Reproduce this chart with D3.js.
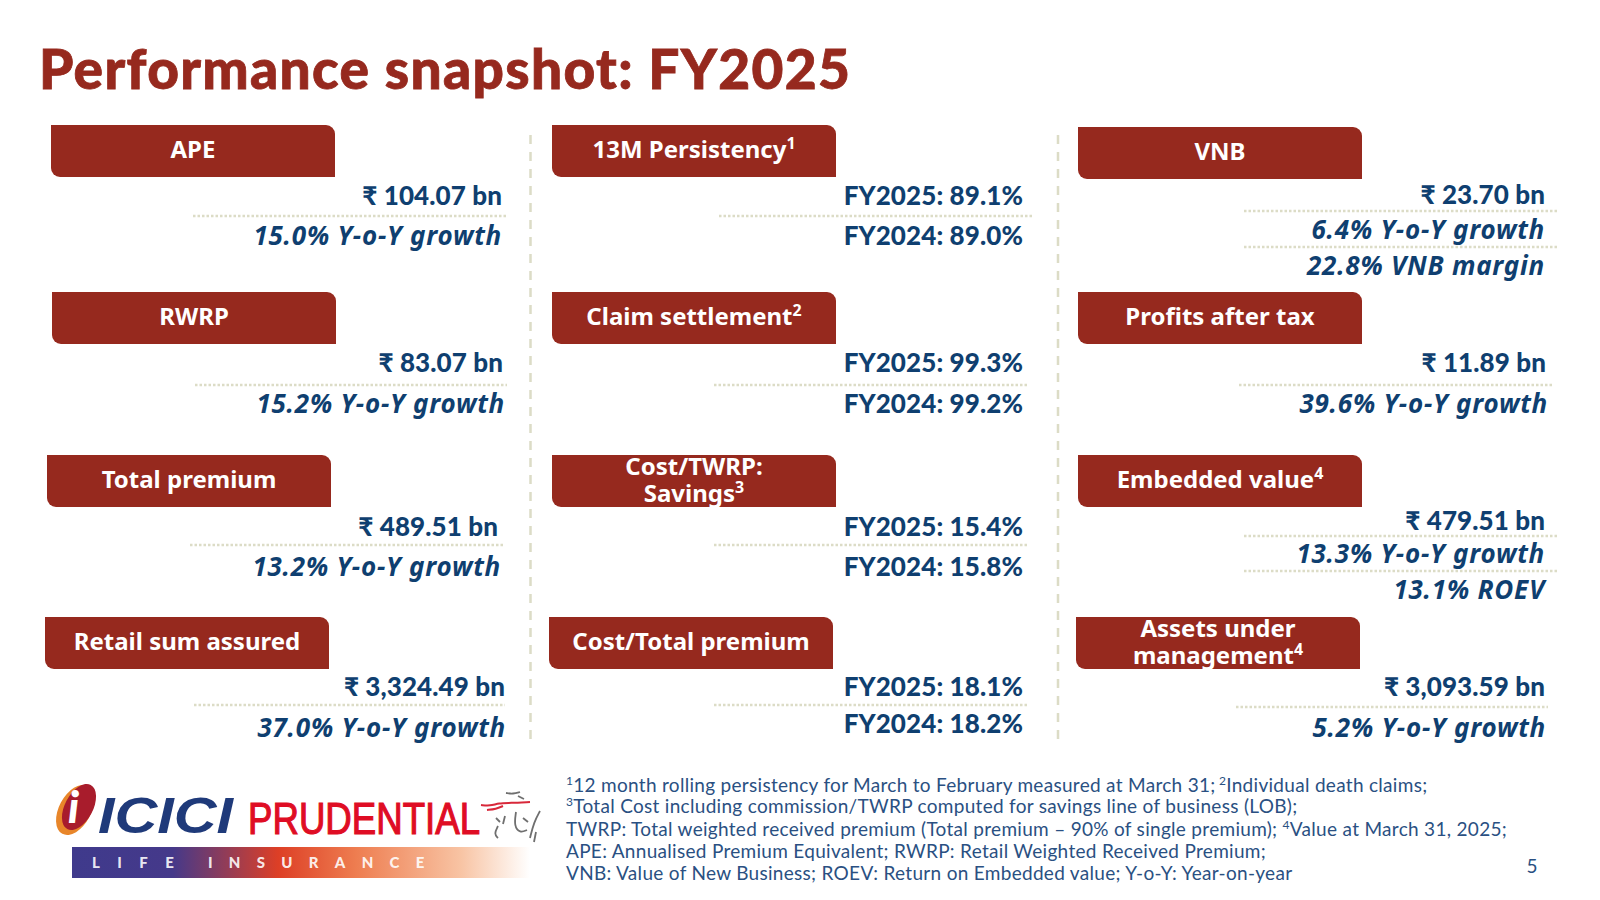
<!DOCTYPE html>
<html>
<head>
<meta charset="utf-8">
<script src="https://cdn.jsdelivr.net/npm/d3@7"></script>
<style>
	html, body { margin: 0; background: #fff; }
	svg { display: block; font-family: Lato, "Noto Sans", sans-serif; }
</style>
</head>
<body>
<svg id="slide" width="1600" height="900"></svg>
<script>
const titleText = "Performance snapshot: FY2025";

// Card contents, column by column
const cardTitles = [
	["APE"], ["RWRP"], ["Total premium"], ["Retail sum assured"],
	["13M Persistency"], ["Claim settlement"], ["Cost/TWRP:", "Savings"], ["Cost/Total premium"],
	["VNB"], ["Profits after tax"], ["Embedded value"], ["Assets under", "management"],
];
const cardNotes = ["", "", "", "", "1", "2", "3", "", "", "", "4", "4"];
const cardValues = [
	"₹ 104.07 bn", "₹ 83.07 bn", "₹ 489.51 bn", "₹ 3,324.49 bn",
	"FY2025: 89.1%", "FY2025: 99.3%", "FY2025: 15.4%", "FY2025: 18.1%",
	"₹ 23.70 bn", "₹ 11.89 bn", "₹ 479.51 bn", "₹ 3,093.59 bn",
];
const cardSecond = [
	"15.0% Y-o-Y growth", "15.2% Y-o-Y growth", "13.2% Y-o-Y growth", "37.0% Y-o-Y growth",
	"FY2024: 89.0%", "FY2024: 99.2%", "FY2024: 15.8%", "FY2024: 18.2%",
	"6.4% Y-o-Y growth", "39.6% Y-o-Y growth", "13.3% Y-o-Y growth", "5.2% Y-o-Y growth",
];
const cardThird = ["", "", "", "", "", "", "", "", "22.8% VNB margin", "", "13.1% ROEV", ""];

const footnotes = [
	[["1", true], ["12 month rolling persistency for March to February measured at March 31;", false], [" 2", true], ["Individual death claims;", false]],
	[["3", true], ["Total Cost including commission/TWRP computed for savings line of business (LOB);", false]],
	[["TWRP: Total weighted received premium (Total premium – 90% of single premium); ", false], ["4", true], ["Value at March 31, 2025;", false]],
	[["APE: Annualised Premium Equivalent; RWRP: Retail Weighted Received Premium;", false]],
	[["VNB: Value of New Business; ROEV: Return on Embedded value; Y-o-Y: Year-on-year", false]],
];
const pageNumber = "5";

// Layout, kept apart from the content above
const boxW = 284, boxH = 52;
const boxX = [51, 52, 47, 45, 552, 552, 552, 549, 1078, 1078, 1078, 1076];
const boxY = [125, 292, 455, 617, 125, 292, 455, 617, 127, 292, 455, 617];
const textRight = [
	[502, 502], [503, 505], [498, 501], [505, 506],
	[1023, 1023], [1023, 1023], [1023, 1023], [1023, 1023],
	[1545, 1545, 1545], [1546, 1548], [1545, 1545, 1545], [1545, 1546],
];
const textBase = [
	[205, 245], [372, 413], [536, 576], [696, 737],
	[205, 245], [372, 413], [536, 576], [696, 733],
	[204, 239, 275], [372, 413], [530, 563, 599], [696, 737],
];
const dotRules = [
	[[193, 507, 216]], [[195, 507, 385]], [[190, 503, 545]], [[194, 505, 705]],
	[[719, 1033, 216]], [[714, 1028, 385]], [[714, 1028, 545]], [[714, 1028, 705]],
	[[1244, 1557, 211], [1244, 1557, 247]], [[1239, 1552, 385]],
	[[1244, 1557, 536], [1244, 1557, 571]], [[1236, 1548, 707]],
];
const dividerX = [530.5, 1058];
const footBase = [792, 813, 836, 858, 880];

const red = "#96291e", navy = "#0f3f70", dotColor = "#dcdcc6";

const svg = d3.select("#slide");

svg.append("text")
	.attr("x", 39).attr("y", 89)
	.attr("font-size", 55).attr("font-weight", 900)
	.attr("letter-spacing", 1.35)
	.attr("fill", red).attr("stroke", red).attr("stroke-width", 0.8)
	.text(titleText);

// Dashed dividers between the columns
svg.selectAll("line.divider")
	.data(dividerX)
	.join("line")
	.attr("class", "divider")
	.attr("x1", (d) => d).attr("x2", (d) => d)
	.attr("y1", 135).attr("y2", 741)
	.attr("stroke", dotColor).attr("stroke-width", 2.5)
	.attr("stroke-dasharray", "9 8");

// Header box: only top right and bottom left corners are rounded
const boxPath = (x, y) => {
	const r = 9;
	const p = d3.path();
	p.moveTo(x, y);
	p.lineTo(x + boxW - r, y);
	p.arcTo(x + boxW, y, x + boxW, y + r, r);
	p.lineTo(x + boxW, y + boxH);
	p.lineTo(x + r, y + boxH);
	p.arcTo(x, y + boxH, x, y + boxH - r, r);
	p.closePath();
	return p.toString();
};

const cards = svg.selectAll("g.card")
	.data(cardTitles)
	.join("g")
	.attr("class", "card");

cards.append("path")
	.attr("d", (d, i) => boxPath(boxX[i], boxY[i]))
	.attr("fill", red);

cards.each(function (lines, i) {
	const card = d3.select(this);
	const cx = boxX[i] + boxW / 2;
	const bases = lines.length === 1 ? [33] : [20, 47];

	// One text element per header, the lines are tspans
	const label = card.append("text")
		.attr("text-anchor", "middle")
		.attr("font-family", "'Noto Sans'")
		.attr("font-size", 24).attr("font-weight", 700)
		.attr("fill", "#fff");
	lines.forEach((line, k) => {
		label.append("tspan")
			.attr("x", cx).attr("y", boxY[i] + bases[k])
			.text(line);
	});
	if (cardNotes[i]) {
		label.append("tspan")
			.attr("dy", -9).attr("font-size", 16)
			.text(cardNotes[i]);
	}

	const rows = [cardValues[i], cardSecond[i], cardThird[i]].filter((t) => t);
	rows.forEach((row, k) => {
		const italic = row.indexOf("FY20") !== 0 && row.indexOf("₹") !== 0;
		card.append("text")
			.attr("x", textRight[i][k]).attr("y", textBase[i][k])
			.attr("text-anchor", "end")
			.attr("font-family", italic ? "'Noto Sans'" : null)
			.attr("font-size", 26)
			.attr("font-weight", italic ? 700 : 900)
			.attr("font-style", italic ? "italic" : "normal")
			.attr("letter-spacing", italic ? 0.75 : 0.1)
			.attr("fill", navy)
			.text(row);
	});

	dotRules[i].forEach((rule) => {
		card.append("line")
			.attr("x1", rule[0]).attr("x2", rule[1])
			.attr("y1", rule[2]).attr("y2", rule[2])
			.attr("stroke", dotColor).attr("stroke-width", 2.5)
			.attr("stroke-dasharray", "2.5 2");
	});
});

// Footnotes
const foot = svg.selectAll("text.foot")
	.data(footnotes)
	.join("text")
	.attr("class", "foot")
	.attr("x", 566)
	.attr("y", (d, i) => footBase[i])
	.attr("font-size", 19)
	.attr("letter-spacing", 0.3)
	.attr("fill", "#2a5082");

foot.selectAll("tspan")
	.data((d) => d)
	.join("tspan")
	.attr("font-size", (d) => (d[1] ? 12 : 19))
	.attr("dy", (d, i, nodes) => {
		const prev = nodes[i - 1] ? nodes[i - 1].__data__[1] : false;
		if (d[1] && !prev) return -7;
		if (!d[1] && prev) return 7;
		return 0;
	})
	.text((d) => d[0]);

svg.append("text")
	.attr("x", 1532).attr("y", 873)
	.attr("text-anchor", "middle")
	.attr("font-size", 19)
	.attr("fill", "#2a5082")
	.text(pageNumber);

// Logo
const logo = svg.append("g");
const defs = svg.append("defs");
const grad = defs.append("linearGradient").attr("id", "logoBar");
[["0%", "#3f3a8c"], ["22%", "#45398a"], ["45%", "#dd3f26"], ["62%", "#ee7d50"], ["85%", "#f8c4a4"], ["100%", "#fff"]]
	.forEach((s) => grad.append("stop").attr("offset", s[0]).attr("stop-color", s[1]));

logo.append("rect")
	.attr("x", 72).attr("y", 847).attr("width", 458).attr("height", 31)
	.attr("fill", "url(#logoBar)");
logo.append("text")
	.attr("x", 92).attr("y", 868)
	.attr("font-size", 15).attr("font-weight", 900)
	.attr("fill", "#fff").attr("fill-opacity", 0.9)
	.attr("letter-spacing", 17.5)
	.text("LIFE");
logo.append("text")
	.attr("x", 208).attr("y", 868)
	.attr("font-size", 15).attr("font-weight", 900)
	.attr("fill", "#fff").attr("fill-opacity", 0.9)
	.attr("letter-spacing", 16.3)
	.text("INSURANCE");

logo.append("ellipse")
	.attr("cx", 75).attr("cy", 810).attr("rx", 16).attr("ry", 27)
	.attr("transform", "rotate(28 75 810)")
	.attr("fill", "#e8862a");
logo.append("ellipse")
	.attr("cx", 79).attr("cy", 807).attr("rx", 14).attr("ry", 25)
	.attr("transform", "rotate(28 79 807)")
	.attr("fill", "#a81c2c");
logo.append("text")
	.attr("x", 68).attr("y", 823)
	.attr("font-size", 44).attr("font-weight", 900).attr("font-style", "italic")
	.attr("fill", "#fff")
	.text("i");

logo.append("text")
	.attr("x", 98).attr("y", 833)
	.attr("font-size", 50).attr("font-weight", 900).attr("font-style", "italic")
	.attr("font-family", "Liberation Sans")
	.attr("fill", "#1f3a7a")
	.attr("textLength", 135).attr("lengthAdjust", "spacingAndGlyphs")
	.text("ICICI");
logo.append("text")
	.attr("x", 248).attr("y", 834)
	.attr("font-size", 44)
	.attr("font-family", "Liberation Sans")
	.attr("fill", "#df0d24").attr("stroke", "#df0d24").attr("stroke-width", 1.2)
	.attr("textLength", 232).attr("lengthAdjust", "spacingAndGlyphs")
	.text("PRUDENTIAL");

// Sketch of the face next to the wordmark
const faceRed = [
	[[481, 805], [490, 806], [499, 803], [510, 803], [530, 802]],
	[[487, 810], [496, 809], [503, 806]],
];
const faceGrey = [
	[[506, 793], [513, 794], [520, 792]],
	[[518, 796], [524, 799]],
	[[496, 818], [500, 822]],
	[[498, 826], [494, 834], [498, 838]],
	[[505, 816], [503, 824]],
	[[516, 812], [514, 826], [520, 833], [527, 830]],
	[[523, 818], [528, 822]],
	[[540, 811], [534, 822], [530, 838]],
	[[536, 832], [534, 842]],
];
const faceLine = d3.line().curve(d3.curveBasis);
logo.selectAll("path.faceRed")
	.data(faceRed)
	.join("path")
	.attr("class", "faceRed")
	.attr("d", faceLine)
	.attr("fill", "none")
	.attr("stroke", "#d8283a")
	.attr("stroke-width", 2);
logo.selectAll("path.faceGrey")
	.data(faceGrey)
	.join("path")
	.attr("class", "faceGrey")
	.attr("d", faceLine)
	.attr("fill", "none")
	.attr("stroke", "#6f6f6f")
	.attr("stroke-width", 1.8);
</script>
</body>
</html>
